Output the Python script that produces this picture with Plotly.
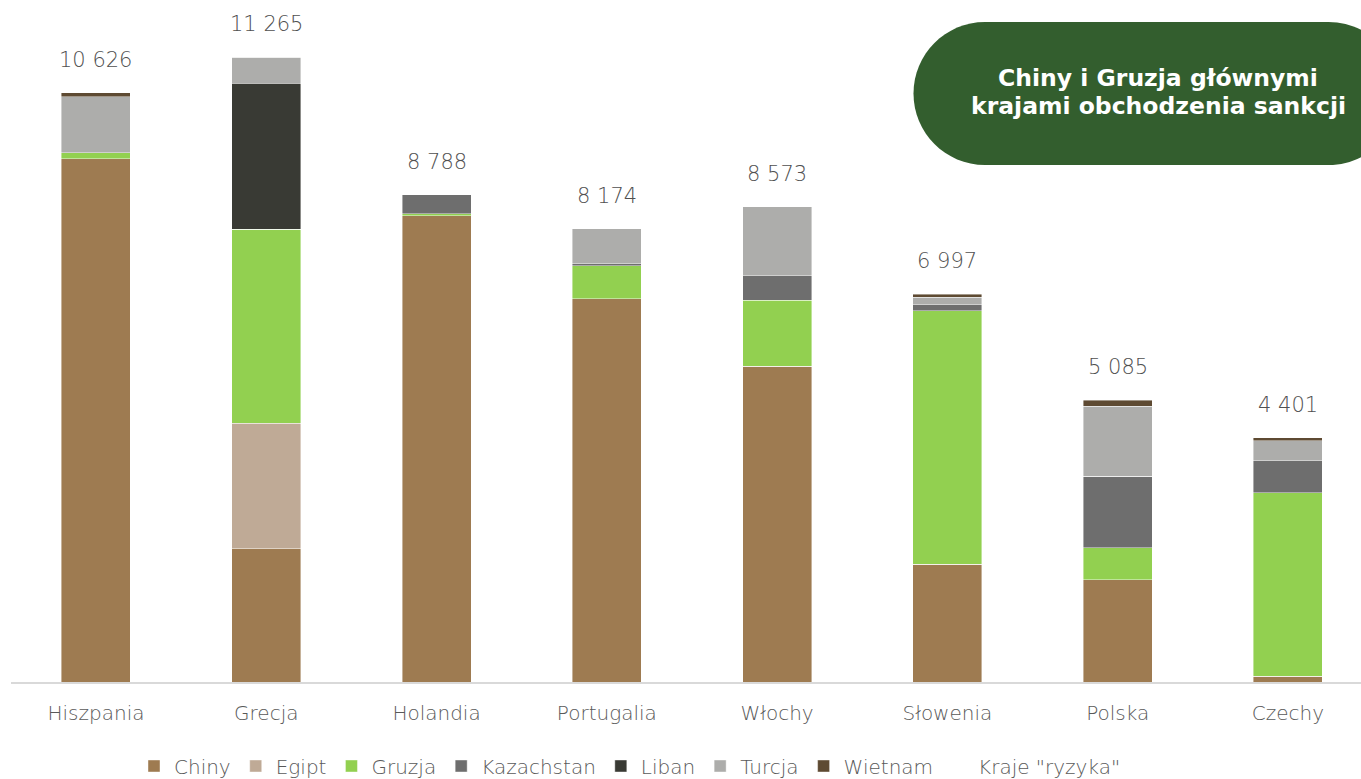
import plotly.graph_objects as go

countries = ["Hiszpania", "Grecja", "Holandia", "Portugalia", "Włochy", "Słowenia", "Polska", "Czechy"]
totals = [10626, 11265, 8788, 8174, 8573, 6997, 5085, 4401]

chiny      = [9436, 2416, 8410, 6914, 5690, 2128, 1840, 108]
egipt      = [0, 2254, 0, 0, 0, 0, 0, 0]
gruzja     = [108, 3495, 36, 595, 1190, 4563, 577, 3301]
kazachstan = [0, 0, 342, 36, 450, 108, 1298, 577]
liban      = [0, 2633, 0, 0, 0, 0, 0, 0]
turcja     = [1010, 467, 0, 629, 1243, 144, 1262, 361]
wietnam    = [72, 0, 0, 0, 0, 54, 108, 54]

title_lines = ["Chiny i Gruzja głównymi", "krajami obchodzenia sankcji"]

series = [
    ("Chiny", chiny, "#9E7B51"),
    ("Egipt", egipt, "#BFAA96"),
    ("Gruzja", gruzja, "#92D050"),
    ("Kazachstan", kazachstan, "#6E6E6E"),
    ("Liban", liban, "#393A34"),
    ("Turcja", turcja, "#ADADAB"),
    ("Wietnam", wietnam, "#5E4A32"),
]

W, H = 1361, 779
L, R, T, B = 11, 0, 0, 97
PW, PH = W - L - R, H - T - B

def px(x):
    return (x - L) / PW

def py(y):
    return (H - B - y) / PH

FONT = "DejaVu Sans"
GRAY = "#595959"

fig = go.Figure()
for name, vals, col in series:
    fig.add_trace(go.Bar(
        x=countries, y=vals, name=name,
        marker=dict(color=col, line=dict(color="rgba(255,255,255,0.7)", width=0.6)),
    ))

fig.add_trace(go.Bar(
    x=[None], y=[None], name='Kraje "ryzyka"',
    marker=dict(color="rgba(0,0,0,0)", line=dict(width=0)),
))

for c, t in zip(countries, totals):
    fig.add_annotation(
        x=c, y=t, xref="x", yref="y",
        text=f"{t:,}".replace(",", " "),
        showarrow=False, yshift=33, yanchor="middle",
        font=dict(family=FONT, size=21, color="#505050", weight=200),
    )

# title badge (stadium shape)
k = 0.5523
r = 71.5
cyc = 93.5
xl, xr = 985.0, 1328.5
yt, yb = 22.0, 165.0
pts = [
    ("M", [(xl, yt)]),
    ("L", [(xr, yt)]),
    ("C", [(xr + k * r, yt), (xr + r, cyc - k * r), (xr + r, cyc)]),
    ("C", [(xr + r, cyc + k * r), (xr + k * r, yb), (xr, yb)]),
    ("L", [(xl, yb)]),
    ("C", [(xl - k * r, yb), (xl - r, cyc + k * r), (xl - r, cyc)]),
    ("C", [(xl - r, cyc - k * r), (xl - k * r, yt), (xl, yt)]),
]
path = ""
for cmd, ps in pts:
    path += cmd + " " + " ".join(f"{px(a):.5f},{py(b):.5f}" for a, b in ps) + " "
path += "Z"
fig.add_shape(type="path", path=path, xref="paper", yref="paper",
              fillcolor="#335E2E", line=dict(width=0), layer="above")

for line, yy in zip(title_lines, [78, 106.5]):
    fig.add_annotation(
        x=px(1158), y=py(yy), xref="paper", yref="paper",
        text=f"<b>{line}</b>",
        showarrow=False, align="center", xanchor="center", yanchor="middle",
        font=dict(family=FONT, size=23.5, color="white"),
    )

fig.update_layout(
    width=W, height=H,
    margin=dict(l=L, r=R, t=T, b=B, autoexpand=False),
    barmode="stack", bargap=0.595,
    plot_bgcolor="white", paper_bgcolor="white",
    font=dict(family=FONT, size=20, color=GRAY, weight=200),
    showlegend=True,
    legend=dict(
        orientation="h", x=px(630), xanchor="center", y=py(766), yanchor="middle",
        font=dict(family=FONT, size=20, color=GRAY, weight=200),
        traceorder="normal", itemclick=False,
    ),
    xaxis=dict(
        type="category", range=[-0.499, 7.429],
        showline=True, linecolor="#D9D9D9", linewidth=1.5,
        ticks="", showgrid=False, ticklabelstandoff=12,
        tickfont=dict(family=FONT, size=20, color=GRAY, weight=200),
    ),
    yaxis=dict(range=[0, 12299], visible=False, showgrid=False),
)

fig.write_html("out.html", config={"displayModeBar": False},
               post_script="document.body.style.margin='0';")
